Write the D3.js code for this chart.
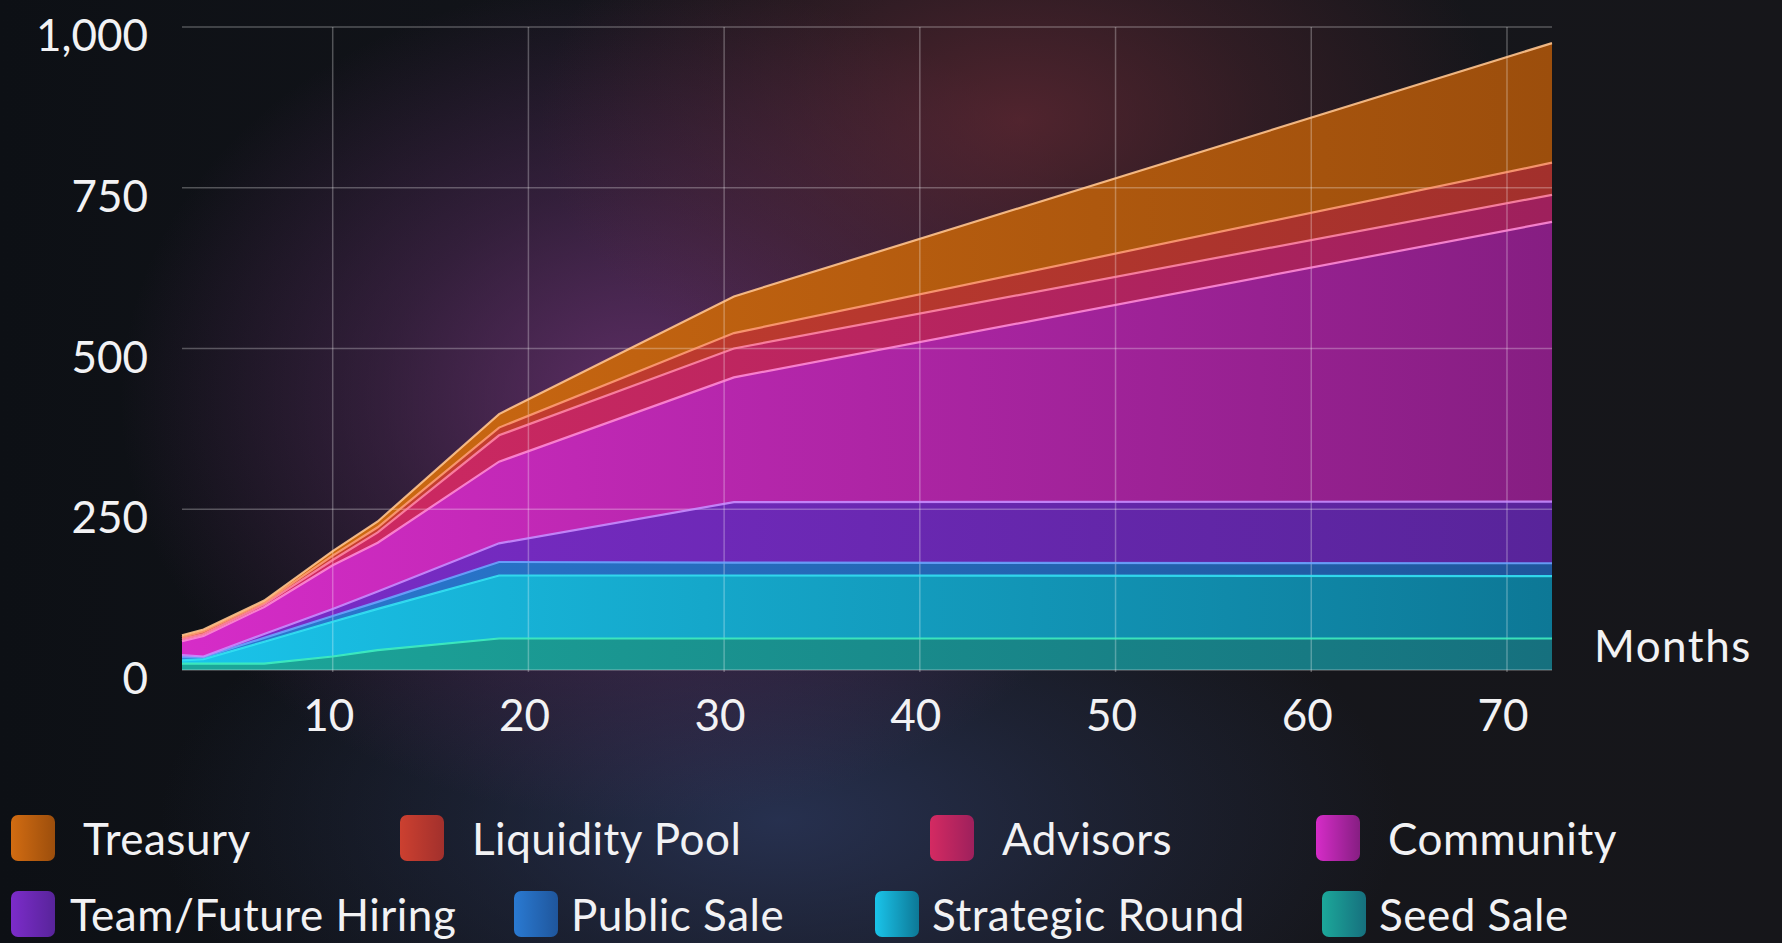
<!DOCTYPE html>
<html>
<head>
<meta charset="utf-8">
<script src="https://cdn.jsdelivr.net/npm/d3@7"></script>
<style>
  html, body { margin: 0; padding: 0; background: #13151b; overflow: hidden; }
  svg { display: block; }
  text { font-family: Lato, "Open Sans", sans-serif; fill: #f2f2f4; }
</style>
</head>
<body>
<svg width="1782" height="943"></svg>
<script>
// token unlock schedule (millions)
const months = [2.3, 3.4, 6.5, 10, 12.3, 18.5, 30.5, 72.3];

const seedSale       = [10, 10, 10, 21, 31, 49, 49, 49];
const strategicRound = [5, 7, 34, 54, 64, 98, 98, 97];
const publicSale     = [5, 3, 6, 9, 11, 21, 20, 20];
const teamHiring     = [3, 1, 6, 11, 16, 29, 94, 96];
const community      = [22, 32, 42, 68, 76, 127, 194, 435];
const advisors       = [3, 3, 4, 8, 16, 41, 45, 42];
const liquidityPool  = [3, 4, 3, 7, 8, 12, 24, 50];
const treasury       = [3, 3, 3, 7, 9, 21, 57, 186];

const yTicks = [0, 250, 500, 750, 1000];
const xTicks = [10, 20, 30, 40, 50, 60, 70];

// bottom -> top stacking order
const seriesNames = ['Seed Sale', 'Strategic Round', 'Public Sale', 'Team/Future Hiring',
  'Community', 'Advisors', 'Liquidity Pool', 'Treasury'];
const seriesValues = [seedSale, strategicRound, publicSale, teamHiring,
  community, advisors, liquidityPool, treasury];

// fill gradient (left, right) and edge line colour per series
const fills = {
  'Seed Sale': ['#1ca89a', '#16707e'],
  'Strategic Round': ['#1ac4ea', '#0d7896'],
  'Public Sale': ['#2a7ad2', '#1f569c'],
  'Team/Future Hiring': ['#7c2cca', '#58249a'],
  'Community': ['#d62cc8', '#861e82'],
  'Advisors': ['#d42a62', '#9e205c'],
  'Liquidity Pool': ['#cc4030', '#a2302c'],
  'Treasury': ['#d26c12', '#9c4e0c']
};
const edges = {
  'Seed Sale': '#3ff0c0',
  'Strategic Round': '#34e2f4',
  'Public Sale': '#6aa4ff',
  'Team/Future Hiring': '#c88cff',
  'Community': '#ff8ad6',
  'Advisors': '#ff86a6',
  'Liquidity Pool': '#ff9c76',
  'Treasury': '#ffc48e'
};

// legend order as shown under the chart
const legendRows = [
  ['Treasury', 'Liquidity Pool', 'Advisors', 'Community'],
  ['Team/Future Hiring', 'Public Sale', 'Strategic Round', 'Seed Sale']
];
const legendX = [
  [11, 400, 930, 1316],
  [11, 514, 875, 1322]
];

const svg = d3.select('svg');
const W = 1782, H = 943;

const table = months.map((m, i) => {
  const row = { month: m };
  seriesNames.forEach((n, j) => { row[n] = seriesValues[j][i]; });
  return row;
});

const x = d3.scaleLinear().domain([months[0], months[months.length - 1]]).range([182, 1552]);
const y = d3.scaleLinear().domain([0, 1000]).range([670, 27]);

const defs = svg.append('defs');

// background: dark base with purple glow, maroon top and navy bottom
const bgBase = defs.append('linearGradient').attr('id', 'bgBase').attr('x1', 0).attr('x2', 1).attr('y1', 0).attr('y2', 0);
bgBase.append('stop').attr('offset', 0).attr('stop-color', '#0d1015');
bgBase.append('stop').attr('offset', 0.5).attr('stop-color', '#15161c');
bgBase.append('stop').attr('offset', 1).attr('stop-color', '#16161a');

function radial(id, cx, cy, rx, ry, color, op) {
  const g = defs.append('radialGradient').attr('id', id)
    .attr('gradientUnits', 'userSpaceOnUse')
    .attr('cx', cx).attr('cy', cy).attr('r', rx)
    .attr('gradientTransform', `translate(${cx},${cy}) scale(1,${ry / rx}) translate(${-cx},${-cy})`);
  g.append('stop').attr('offset', 0).attr('stop-color', color).attr('stop-opacity', op);
  g.append('stop').attr('offset', 0.5).attr('stop-color', color).attr('stop-opacity', op * 0.45);
  g.append('stop').attr('offset', 1).attr('stop-color', color).attr('stop-opacity', 0);
}
radial('glowNavy', 780, 820, 620, 300, '#2a3558', 0.85);
radial('glowPurple', 640, 400, 520, 420, '#6a3272', 0.85);
radial('glowRed', 1020, 120, 480, 300, '#6a2a36', 0.7);

svg.append('rect').attr('width', W).attr('height', H).attr('fill', 'url(#bgBase)');
svg.append('rect').attr('width', W).attr('height', H).attr('fill', 'url(#glowNavy)');
svg.append('rect').attr('width', W).attr('height', H).attr('fill', 'url(#glowPurple)');
svg.append('rect').attr('width', W).attr('height', H).attr('fill', 'url(#glowRed)');

// per-series fill gradients
seriesNames.forEach((n, i) => {
  const g = defs.append('linearGradient').attr('id', 'fill' + i)
    .attr('gradientUnits', 'userSpaceOnUse')
    .attr('x1', x.range()[0]).attr('x2', x.range()[1]).attr('y1', 0).attr('y2', 0);
  g.append('stop').attr('offset', 0).attr('stop-color', fills[n][0]);
  g.append('stop').attr('offset', 1).attr('stop-color', fills[n][1]);
  const s = defs.append('linearGradient').attr('id', 'swatch' + i)
    .attr('x1', 0).attr('x2', 1).attr('y1', 0).attr('y2', 0);
  s.append('stop').attr('offset', 0).attr('stop-color', fills[n][0]);
  s.append('stop').attr('offset', 1).attr('stop-color', fills[n][1]);
});

// stacked areas
const stack = d3.stack().keys(seriesNames);
const layers = stack(table);

const area = d3.area()
  .x((d) => x(d.data.month))
  .y0((d) => y(d[0]))
  .y1((d) => y(d[1]));

const topLine = d3.line()
  .x((d) => x(d.data.month))
  .y((d) => y(d[1]));

svg.append('g').selectAll('path')
  .data(layers)
  .enter()
  .append('path')
  .attr('d', area)
  .attr('fill', (d, i) => 'url(#fill' + i + ')');

// grid on top of the areas
const grid = svg.append('g').attr('stroke', '#ffffff').attr('stroke-opacity', 0.28).attr('stroke-width', 1.5);
grid.selectAll('.h')
  .data(yTicks)
  .enter()
  .append('line')
  .attr('x1', x.range()[0])
  .attr('x2', x.range()[1])
  .attr('y1', (d) => y(d))
  .attr('y2', (d) => y(d));
grid.selectAll('.v')
  .data(xTicks)
  .enter()
  .append('line')
  .attr('x1', (d) => x(d))
  .attr('x2', (d) => x(d))
  .attr('y1', y(1000))
  .attr('y2', y(0) + 2);

// edge lines
svg.append('g').selectAll('path')
  .data(layers)
  .enter()
  .append('path')
  .attr('d', topLine)
  .attr('fill', 'none')
  .attr('stroke', (d) => edges[d.key])
  .attr('stroke-width', 2.2)
  .attr('stroke-opacity', 0.9);

// axes labels
svg.append('g').selectAll('text')
  .data(yTicks)
  .enter()
  .append('text')
  .attr('x', 148)
  .attr('y', (d) => y(d) + 24)
  .attr('text-anchor', 'end')
  .attr('font-size', 44)
  .text((d) => d3.format(',')(d));

svg.append('g').selectAll('text')
  .data(xTicks)
  .enter()
  .append('text')
  .attr('x', (d) => x(d) - 4)
  .attr('y', 731)
  .attr('text-anchor', 'middle')
  .attr('font-size', 44)
  .text((d) => d);

svg.append('text')
  .attr('x', 1594)
  .attr('y', 662)
  .attr('font-size', 44)
  .attr('letter-spacing', 1.5)
  .attr('fill', '#e4e4ea')
  .text('Months');

// legend
const rowY = [815, 891];
legendRows.forEach((row, r) => {
  row.forEach((name, c) => {
    const i = seriesNames.indexOf(name);
    const g = svg.append('g').attr('transform', `translate(${legendX[r][c]},${rowY[r]})`);
    g.append('rect')
      .attr('width', 44).attr('height', 46).attr('rx', 7)
      .attr('fill', 'url(#swatch' + i + ')');
    g.append('text')
      .attr('x', r === 0 ? 72 : (c === 0 ? 59 : 57))
      .attr('y', 40)
      .attr('font-size', 44)
      .attr('letter-spacing', 0.5)
      .text(name);
  });
});
</script>
</body>
</html>
